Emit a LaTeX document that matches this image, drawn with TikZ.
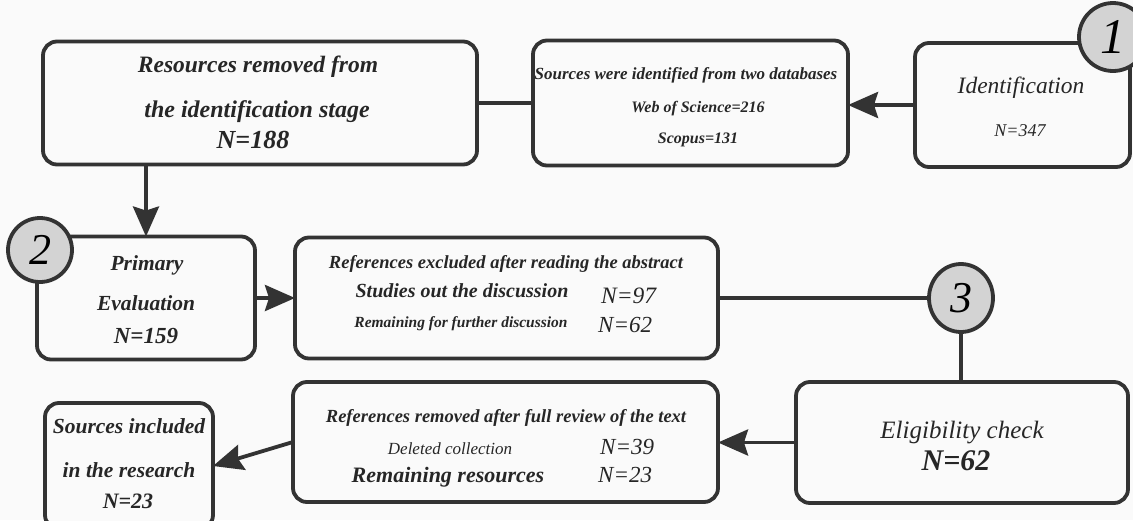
\documentclass[tikz,border=0pt]{standalone}
\usepackage{fontspec}
\setmainfont{Liberation Serif}
\usetikzlibrary{
    arrows.meta,
    calc,
    shapes.geometric,
    positioning
}
\definecolor{edgegray}{HTML}{333333}
\definecolor{paper}{HTML}{FAFAFA}
\definecolor{discgray}{HTML}{D3D3D3}
\tikzset{
    box/.style={draw=edgegray, line width=3.8pt, rounded corners=14pt, fill=paper, inner sep=0pt, outer sep=0pt},
    stepdisc/.style={circle, draw=edgegray, line width=3.8pt, fill=discgray, inner sep=0pt, outer sep=0pt},
    conn/.style={draw=edgegray, line width=3.8pt},
    arr/.style={conn, -{Stealth[length=30pt, width=26pt, inset=4pt]}},
    bt/.style={anchor=base, inner sep=0pt, text=black!85, font=\bfseries\itshape\fontsize{#1}{#1}\selectfont},
    rt/.style={anchor=base, inner sep=0pt, text=black!85, font=\itshape\fontsize{#1}{#1}\selectfont}
}

\begin{document}
\begin{tikzpicture}[x=1pt, y=-1pt]
                        \clip (0, 0) rectangle (1133, 520);
                        \fill[paper] (0, 0) rectangle (1133, 520);
                        \node[box, minimum width=434pt, minimum height=123pt] (removed) at (260, 103) {};
                        \node[box, minimum width=315pt, minimum height=125pt] (sources) at (690.5, 103) {};
                        \node[box, minimum width=215pt, minimum height=124pt] (ident) at (1022.5, 105) {};
                        \node[box, minimum width=218pt, minimum height=123pt] (primary) at (146, 298) {};
                        \node[box, minimum width=423pt, minimum height=121pt] (abstract) at (506.5, 298) {};
                        \node[box, minimum width=332pt, minimum height=121pt] (elig) at (962, 442.5) {};
                        \node[box, minimum width=425pt, minimum height=120pt] (fulltext) at (505.5, 442) {};
                        \node[box, minimum width=168pt, minimum height=126pt] (included) at (129, 466) {};
                        \draw[conn] (removed.east) -- (sources.west);
                        \draw[arr] (ident.west) -- (ident.west -| sources.east);
                        \draw[arr] (removed.south -| primary.north) -- (primary.north);
                        \draw[arr] (primary.east) -- (primary.east -| abstract.west);
                        \node[stepdisc, ellipse, minimum width=64pt, minimum height=68pt] (stepthree) at (961, 298) {};
                        \draw[conn] (abstract.east) -- (stepthree);
                        \draw[conn] (stepthree) -- (stepthree |- elig.north);
                        \draw[arr] (elig.west) -- (elig.west -| fulltext.east);
                        \draw[arr] (fulltext.west) -- (included.east);
                        \node[stepdisc, minimum size=68pt, font=\itshape\fontsize{50}{50}\selectfont] (stepone) at (1113, 37) {1};
                        \node[stepdisc, minimum size=64pt, font=\itshape\fontsize{44}{44}\selectfont] (steptwo) at (40, 250) {2};
                        \node[font=\itshape\fontsize{44}{44}\selectfont, inner sep=0pt] (stepthreelbl) at (stepthree) {3};
                        \node[bt=23.5] (ra1) at (258, 72) {Resources removed from};
                        \node[bt=24] (ra2) at (257, 117) {the identification stage};
                        \node[bt=26] (ra3) at (253, 148) {N=188};
                        \node[bt=17] (sb1) at (686, 79) {Sources were identified from two databases};
                        \node[bt=16] (sb2) at (698, 112) {Web of Science=216};
                        \node[bt=16] (sb3) at (698, 143) {Scopus=131};
                        \node[rt=23.5] (ic1) at (1021, 93) {Identification};
                        \node[rt=18] (ic2) at (1020, 136) {N=347};
                        \node[bt=21.5] (pd1) at (147, 270) {Primary};
                        \node[bt=21.5] (pd2) at (146, 310) {Evaluation};
                        \node[bt=23] (pd3) at (146, 343) {N=159};
                        \node[bt=18.5] (ae1) at (506, 268) {References excluded after reading the abstract};
                        \node[bt=20] (ae2) at (462, 297) {Studies out the discussion};
                        \node[rt=23.5, anchor=base west] (ae3) at (601, 303) {N=97};
                        \node[bt=15.5] (ae4) at (461, 327) {Remaining for further discussion};
                        \node[rt=23, anchor=base west] (ae5) at (598, 332) {N=62};
                        \node[rt=25] (ef1) at (962, 438) {Eligibility check};
                        \node[bt=30] (ef2) at (956, 470) {N=62};
                        \node[bt=18.5] (fg1) at (506, 422) {References removed after full review of the text};
                        \node[rt=17] (fg2) at (450, 454) {Deleted collection};
                        \node[rt=23, anchor=base west] (fg3) at (600, 454) {N=39};
                        \node[bt=22] (fg4) at (448, 482) {Remaining resources};
                        \node[rt=23, anchor=base west] (fg5) at (598, 482) {N=23};
                        \node[bt=21.5] (ih1) at (129, 433) {Sources included};
                        \node[bt=21.5] (ih2) at (129, 477) {in the research};
                        \node[bt=22] (ih3) at (128, 508) {N=23};
                    \end{tikzpicture}
\end{document}
